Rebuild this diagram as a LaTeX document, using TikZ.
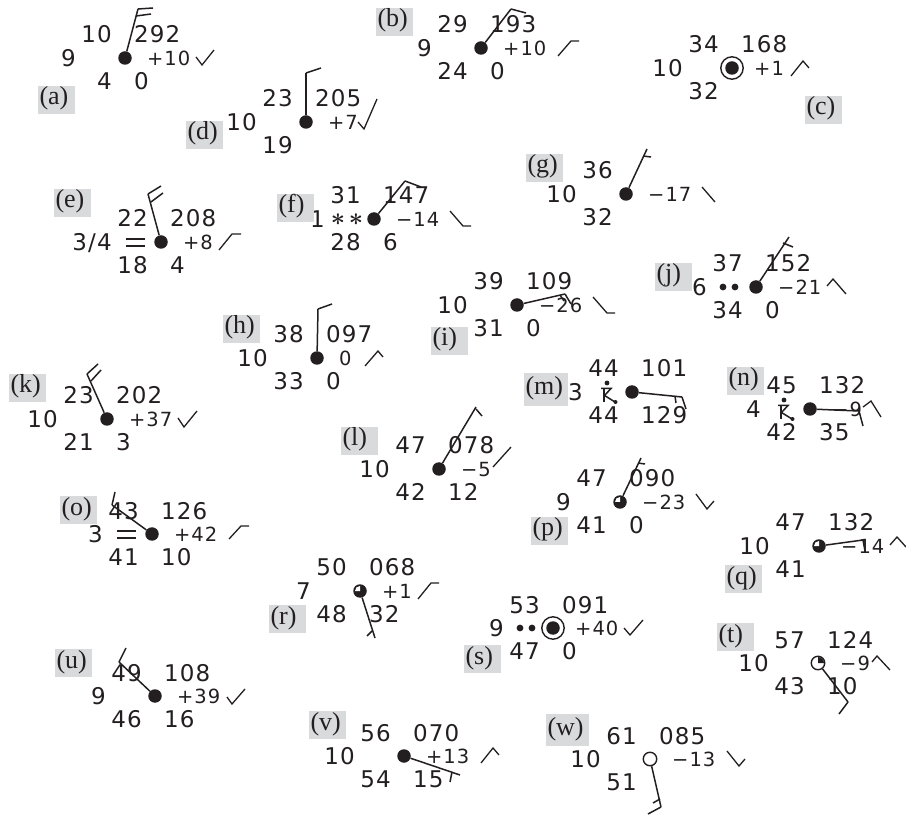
\documentclass[tikz,border=0pt]{standalone}
\usepackage{fontspec}
\setmainfont{Liberation Serif}
\newfontfamily\stnfont[LetterSpace=5]{DejaVu Sans}
\usetikzlibrary{calc}
\definecolor{stnblack}{RGB}{35,31,32}
\definecolor{labgray}{RGB}{217,218,220}
\tikzset{
  stnfull/.style={circle,fill=stnblack,inner sep=0pt,minimum size=13.5pt},
  stnopen/.style={circle,draw=stnblack,fill=white,line width=1.4pt,inner sep=0pt,minimum size=13.5pt},
  stnnum/.style={inner sep=0pt,text=stnblack,font=\stnfont\fontsize{23}{23}\selectfont},
  tendnum/.style={inner sep=0pt,text=stnblack,font=\stnfont\fontsize{19.5}{20}\selectfont},
  windline/.style={draw=stnblack,line width=1.5pt,line join=miter},
  tendline/.style={draw=stnblack,line width=1.3pt},
  labbox/.style={fill=labgray,inner xsep=1.5pt,inner ysep=0pt,minimum height=28pt,text width=34pt,align=left,text height=18pt,text depth=8pt,text=stnblack,font=\fontsize{26}{26}\selectfont}
}
\newcommand{\thundermark}[2]{%
  \fill[stnblack] (#1-1,#2-8) circle (2.4pt);
  \draw[stnblack,line width=1.5pt] (#1-7,#2-2.5) -- (#1+3,#2-2.5) -- (#1-3.5,#2+4.5) -- (#1+7,#2+11);
  \draw[stnblack,line width=1.5pt] (#1-4,#2-2.5) -- (#1-4,#2+11.5);
  \fill[stnblack] (#1+7.5,#2+11) circle (2pt);
}
\begin{document}
\begin{tikzpicture}[x=1pt,y=-1pt]
\useasboundingbox (0,0) rectangle (906,818);
% stations
\foreach \n/\x/\y/\sky/\temp/\vis/\dew/\pres/\tend/\rain in {
  a/125/58/stnfull/10/9/4/292/+10/0, b/481/48/stnfull/29/9/24/193/+10/0,
  c/732/68/stnfull/34/10/32/168/+1/, d/306/122/stnfull/23/10/19/205/+7/,
  e/161/242/stnfull/22/{3/4}/18/208/+8/4, f/374/219/stnfull/31/1/28/147/−14/6,
  g/626/194/stnfull/36/10/32//−17/, h/317/358/stnfull/38/10/33/097/0/0,
  i/517/305/stnfull/39/10/31/109/−26/0, j/756/287/stnfull/37/6/34/152/−21/0,
  k/107/419/stnfull/23/10/21/202/+37/3, l/439/469/stnfull/47/10/42/078/−5/12,
  m/632/392/stnfull/44/3/44/101//129, n/810/409/stnfull/45/4/42/132/−9/35,
  o/152/534/stnfull/43/3/41/126/+42/10, p/620/502/stnfull/47/9/41/090/−23/0,
  q/819/546/stnfull/47/10/41/132/−14/, r/360/591/stnfull/50/7/48/068/+1/32,
  s/553/628/stnfull/53/9/47/091/+40/0, t/818/663/stnopen/57/10/43/124/−9/10,
  u/155/696/stnfull/49/9/46/108/+39/16, v/404/756/stnfull/56/10/54/070/+13/15,
  w/650/759/stnopen/61/10/51/085/−13/} {
  \node[\sky] (\n) at (\x,\y) {};
  \node[stnnum,anchor=base east] (\n-temp) at ($(\n)+(-13,-15)$) {\temp};
  \node[stnnum,anchor=base east] (\n-vis) at ($(\n)+(-49,8.5)$) {\vis};
  \node[stnnum,anchor=base east] (\n-dew) at ($(\n)+(-13,31.5)$) {\dew};
  \ifx\pres\empty\else\node[stnnum,anchor=base west] (\n-pres) at ($(\n)+(9,-15)$) {\pres};\fi
  \ifx\tend\empty\else\node[tendnum,anchor=base west] (\n-tend) at ($(\n)+(22,7.5)$) {\tend};\fi
  \ifx\rain\empty\else\node[stnnum,anchor=base west] (\n-rain) at ($(\n)+(9,31.5)$) {\rain};\fi
}
% sky cover
\foreach \n in {c,s} \draw[stnblack,line width=1.4pt] (\n.center) circle (11.2pt);
\foreach \n in {p,q,r} \fill[white] (\n.center) -- ++(0,-5) arc[start angle=90,end angle=180,radius=5pt] -- cycle;
\fill[stnblack] (t.center) -- ++(0,-6) arc[start angle=90,end angle=0,radius=6pt] -- cycle;
% weather
\foreach \n in {e,o} {
  \draw[stnblack,line width=1.4pt] ($(\n)+(-35,-3)$) -- ++(19,0);
  \draw[stnblack,line width=1.4pt] ($(\n)+(-35,4)$) -- ++(19,0);
}
\foreach \n in {j,s} {
  \fill[stnblack] ($(\n)+(-33,0)$) circle (3.4pt);
  \fill[stnblack] ($(\n)+(-21,0)$) circle (3.4pt);
}
\node[stnnum,font=\boldmath\fontsize{29}{29}\selectfont] (f-snowa) at (338,220) {$\ast$};
\node[stnnum,font=\boldmath\fontsize{29}{29}\selectfont] (f-snowb) at (356,220) {$\ast$};
\thundermark{608}{391}
\thundermark{785}{408}
% wind shafts
\foreach \n/\tx/\ty in {a/138/9,b/511/9,d/306/73,e/148/194,f/405/181,g/647/149,h/318/309,i/565/294,j/789/237,k/87/374,l/476/407,m/682/397,n/859/411,o/112/505,p/641/458,q/863/540,r/375/638,t/848/702,u/119/662,v/460/775,w/661/807} {
  \coordinate (\n-tip) at (\tx,\ty);
  \draw[windline] (\n) -- (\n-tip);
}
% wind barbs
\foreach \ax/\ay/\bx/\by in {138/9/153/8,136/16/151/14,511/9/526/13,306/73/321/68,148/194/161/186,151/202/163/193,405/181/421/187,643/156/651/157,318/309/332/304,565/294/571/304,560/295/564/301,783/243/793/247,87/374/98/364,91/381/101/370,476/409/482/416,682/397/686/409,675/396/676/403,859/411/863/426,112/505/115/492,638/463/645/464,863/540/865/551,372/631/367/636,848/702/839/714,119/662/126/648,452/772/450/782,661/807/648/814,660/799/653/803}
  \draw[windline] (\ax,\ay) -- (\bx,\by);
% tendency marks
\draw[tendline] (196,57) -- (202,65) -- (214,50);
\draw[tendline] (558,56) -- (571,41) -- (579,41);
\draw[tendline] (791,76) -- (803,61) -- (809,68);
\draw[tendline] (358,122) -- (364,129) -- (377,99);
\draw[tendline] (219,250) -- (232,234) -- (241,234);
\draw[tendline] (450,211) -- (463,226) -- (471,226);
\draw[tendline] (702,187) -- (715,202);
\draw[tendline] (365,366) -- (378,351) -- (383,357);
\draw[tendline] (593,297) -- (607,313) -- (615,313);
\draw[tendline] (827,286) -- (833,279) -- (846,294);
\draw[tendline] (178,418) -- (184,427) -- (197,411);
\draw[tendline] (493,467) -- (511,447);
\draw[tendline] (863,407) -- (871,401) -- (881,417);
\draw[tendline] (229,539) -- (241,526) -- (249,526);
\draw[tendline] (696,494) -- (707,509) -- (714,501);
\draw[tendline] (890,545) -- (897,537) -- (906,547);
\draw[tendline] (418,599) -- (431,583) -- (439,583);
\draw[tendline] (624,628) -- (630,635) -- (643,620);
\draw[tendline] (872,662) -- (877,656) -- (890,670);
\draw[tendline] (227,697) -- (232,704) -- (245,689);
\draw[tendline] (481,763) -- (493,748) -- (499,755);
\draw[tendline] (727,751) -- (739,766) -- (745,759);
% panel labels
\foreach \n/\x/\y in {a/56.5/100,b/394.5/22,c/823.5/110,d/204.5/135,e/72.5/203,f/295.5/208,g/544.5/168,h/241.5/329,i/449.5/341,j/673.5/277,k/27.5/388,l/359.5/441,n/745.5/381,o/78.5/510,p/549.5/531,q/743.5/579,r/287.5/619,s/482.5/659,t/735.5/637,u/73.5/663,v/327.5/725}
  \node[labbox] (lab-\n) at (\x,\y) {(\n)};
\node[labbox,text width=41pt,minimum height=33pt] (lab-m) at (546,389.5) {(m)};
\node[labbox,text width=40pt,minimum height=32pt] (lab-w) at (567.5,730) {(w)};
\end{tikzpicture}
\end{document}
